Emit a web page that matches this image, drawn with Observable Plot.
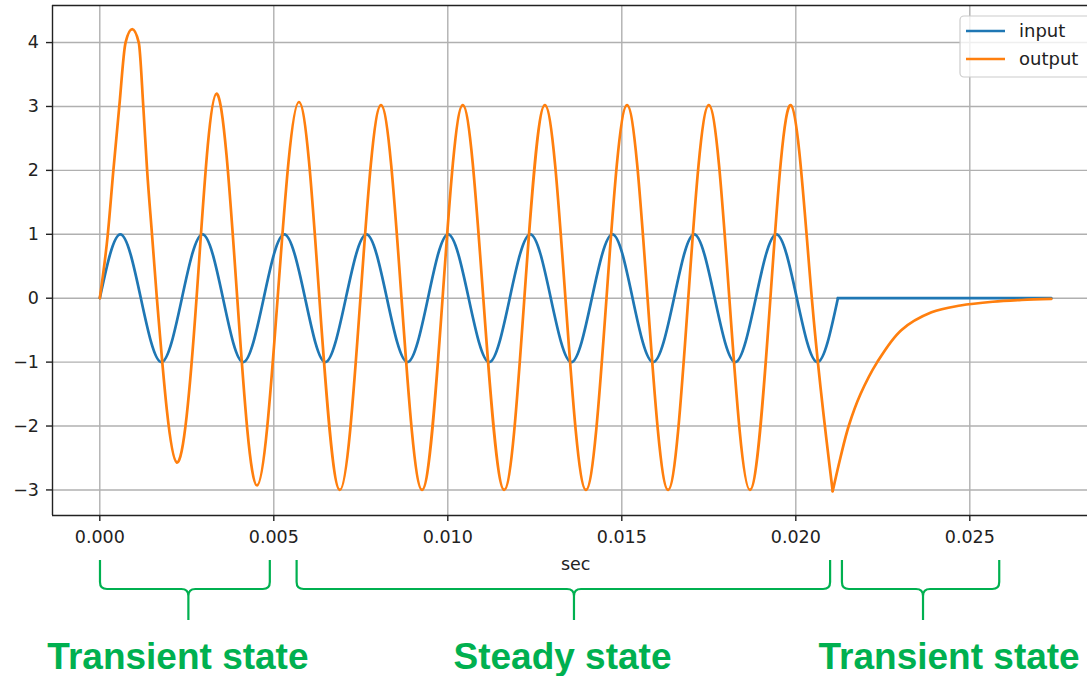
<!DOCTYPE html>
<html><head><meta charset="utf-8">
<script src="https://cdn.jsdelivr.net/npm/d3@7"></script>
<script src="https://cdn.jsdelivr.net/npm/@observablehq/plot@0.6"></script>
<style>
html,body{margin:0;padding:0;background:#fff;}
#chart svg{display:block;overflow:visible;}
</style>
</head><body><div id="chart"></div>
<script>
// ---- data ----
const inputTimes = [0, 0.00059, 0.00118, 0.00177, 0.00236, 0.00295, 0.00354, 0.00412, 0.00471, 0.0053, 0.0059, 0.00648, 0.00707, 0.00766, 0.00825, 0.00884, 0.00943, 0.01001, 0.0106, 0.01119, 0.01178, 0.01237, 0.01296, 0.01355, 0.01414, 0.01473, 0.01531, 0.0159, 0.0165, 0.01708, 0.01767, 0.01826, 0.01885, 0.01944, 0.02003, 0.02062, 0.02121];
const inputValues = [0, 1, 0, -1, 0, 1, 0, -1, 0, 1, 0, -1, 0, 1, 0, -1, 0, 1, 0, -1, 0, 1, 0, -1, 0, 1, 0, -1, 0, 1, 0, -1, 0, 1, 0, -1, 0];
const inputTailTimes = [0.02121, 0.02734];
const inputTailValues = [0, 0];

// first lobe of the output (start-up transient)
const outputHeadTimes = [0, 0.00023, 0.00039, 0.00056, 0.00074, 0.00093, 0.00112, 0.00125, 0.00136, 0.0015, 0.00164];
const outputHeadValues = [0, 1.0, 2.0, 3.0, 4.0, 4.21, 4.0, 3.0, 2.0, 1.0, 0];
// oscillating part of the output
const outputTimes = [0.00164, 0.00221, 0.00278, 0.00335, 0.00395, 0.00452, 0.00511, 0.00572, 0.00631, 0.0069, 0.00749, 0.00808, 0.00867, 0.00926, 0.00985, 0.01043, 0.01102, 0.01162, 0.0122, 0.01279, 0.01338, 0.01397, 0.01456, 0.01515, 0.01574, 0.01633, 0.01691, 0.0175, 0.01809, 0.01868, 0.01927, 0.01986, 0.02046, 0.02106];
const outputValues = [0, -2.57, 0, 3.2, 0, -2.93, 0, 3.07, 0, -3.0, 0, 3.02, 0, -3.0, 0, 3.02, 0, -3.0, 0, 3.02, 0, -3.0, 0, 3.02, 0, -3.0, 0, 3.02, 0, -3.0, 0, 3.02, 0, -3.02];
// decay after the input stops
const decayTimes = [0.02106, 0.02128, 0.02152, 0.02186, 0.02234, 0.02303, 0.0239, 0.02473, 0.02566, 0.02649, 0.02734];
const decayValues = [-3.02, -2.5, -2.0, -1.5, -1.0, -0.5, -0.22, -0.114, -0.055, -0.028, -0.012];

const xTicks = [0, 0.005, 0.010, 0.015, 0.020, 0.025];
const yTicks = [-3, -2, -1, 0, 1, 2, 3, 4];
const seriesNames = ["input", "output"];
const seriesColors = ["#1f77b4", "#ff7f0e"];
const xLabel = "sec";

const braceStarts = [0.00002, 0.00567, 0.02134];
const braceEnds = [0.0049, 0.0210, 0.02586];
const braceTips = [0.00256, 0.01364, 0.02367];
const stateLabels = ["Transient state", "Steady state", "Transient state"];
const stateLabelCenters = [0.00226, 0.01331, 0.02442];

// axes limits (visible part of the matplotlib axes; right edge is cropped)
const xDomain = [-0.001359, 0.028382];
const fullXLim = [-0.001369, 0.02875];
const yDomain = [-3.40, 4.58];

const zip = (ts, vs) => ts.map((t, i) => ({t, v: vs[i]}));
const input = zip(inputTimes, inputValues);
const inputTail = zip(inputTailTimes, inputTailValues);
const outputHead = zip(outputHeadTimes, outputHeadValues);
const output = zip(outputTimes, outputValues);
const decay = zip(decayTimes, decayValues);

const ink = "#222";
const FS = 17.5;
const lw = 2.7;
const fmtY = d => (d < 0 ? "\u2212" + Math.abs(d) : String(d));

const plot = Plot.plot({
  width: 1087,
  height: 676,
  marginLeft: 52,
  marginRight: 0,
  marginTop: 5,
  marginBottom: 161,
  x: {domain: xDomain},
  y: {domain: yDomain},
  style: {fontFamily: "DejaVu Sans", fontSize: FS + "px", color: ink, background: "white", overflow: "visible"},
  marks: [
    Plot.gridX(xTicks, {stroke: "#b0b0b0", strokeOpacity: 1, strokeWidth: 1.4}),
    Plot.gridY(yTicks, {stroke: "#b0b0b0", strokeOpacity: 1, strokeWidth: 1.4}),
    Plot.line(input, {x: "t", y: "v", curve: "natural", stroke: seriesColors[0], strokeWidth: lw}),
    Plot.line(inputTail, {x: "t", y: "v", stroke: seriesColors[0], strokeWidth: lw}),
    Plot.line(outputHead, {x: "t", y: "v", curve: "monotone-x", stroke: seriesColors[1], strokeWidth: lw}),
    Plot.line(output, {x: "t", y: "v", curve: "natural", stroke: seriesColors[1], strokeWidth: lw}),
    Plot.line(decay, {x: "t", y: "v", curve: "catmull-rom", stroke: seriesColors[1], strokeWidth: lw}),
    Plot.axisX(xTicks, {tickSize: 6, tickPadding: 9, strokeWidth: 1.4, fontSize: FS, tickFormat: d3.format(".3f"), label: null}),
    Plot.axisY(yTicks, {tickSize: 6, tickPadding: 7.5, strokeWidth: 1.4, fontSize: FS, tickFormat: fmtY, label: null}),
    Plot.ruleX([xDomain[0]], {stroke: ink, strokeWidth: 1.4}),
    Plot.ruleY([yDomain[0]], {stroke: ink, strokeWidth: 1.4}),
    Plot.ruleY([yDomain[1]], {stroke: ink, strokeWidth: 1.4})
  ]
});

document.getElementById("chart").append(plot);
const svgEl = plot.tagName.toLowerCase() === "svg" ? plot : plot.querySelector("svg");
const sx = plot.scale("x");
const svg = d3.select(svgEl);

// x-axis label (centred on the full matplotlib axes width)
svg.append("text")
  .attr("x", sx.apply((fullXLim[0] + fullXLim[1]) / 2))
  .attr("y", 569.5)
  .attr("text-anchor", "middle")
  .attr("fill", ink)
  .style("font-family", "DejaVu Sans")
  .style("font-size", FS + "px")
  .text(xLabel);

// legend
const lg = svg.append("g");
lg.append("rect")
  .attr("x", 960).attr("y", 16).attr("width", 140).attr("height", 61)
  .attr("rx", 4).attr("fill", "white").attr("fill-opacity", 0.8)
  .attr("stroke", "#cccccc").attr("stroke-width", 1.2);
seriesNames.forEach((name, i) => {
  const yy = 31 + i * 28;
  lg.append("line").attr("x1", 966).attr("x2", 1005).attr("y1", yy).attr("y2", yy)
    .attr("stroke", seriesColors[i]).attr("stroke-width", lw);
  lg.append("text").attr("x", 1019).attr("y", yy + 6)
    .attr("text-anchor", "start")
    .attr("fill", ink).style("font-family", "DejaVu Sans").style("font-size", "18px")
    .text(name);
});

// braces and state labels
const green = "#00B050";
function bracePath(x0, x1, xc, top, h, tip, r) {
  return `M${x0},${top} L${x0},${h - r} Q${x0},${h} ${x0 + r},${h} L${xc - r},${h} Q${xc},${h} ${xc},${h + r} L${xc},${tip}` +
         ` M${xc},${h + r} Q${xc},${h} ${xc + r},${h} L${x1 - r},${h} Q${x1},${h} ${x1},${h - r} L${x1},${top}`;
}
const ann = svg.append("g");
braceStarts.forEach((s, i) => {
  const x0 = sx.apply(s), x1 = sx.apply(braceEnds[i]), xc = sx.apply(braceTips[i]);
  ann.append("path")
    .attr("d", bracePath(x0, x1, xc, 560, 589, 620, 7))
    .attr("fill", "none").attr("stroke", green).attr("stroke-width", 2.2);
  ann.append("text")
    .attr("x", sx.apply(stateLabelCenters[i]))
    .attr("y", 669)
    .attr("text-anchor", "middle")
    .attr("fill", green)
    .style("font-family", "'Liberation Sans', Arial, sans-serif")
    .style("font-weight", "bold")
    .style("font-size", "37px")
    .text(stateLabels[i]);
});
</script>
</body></html>
